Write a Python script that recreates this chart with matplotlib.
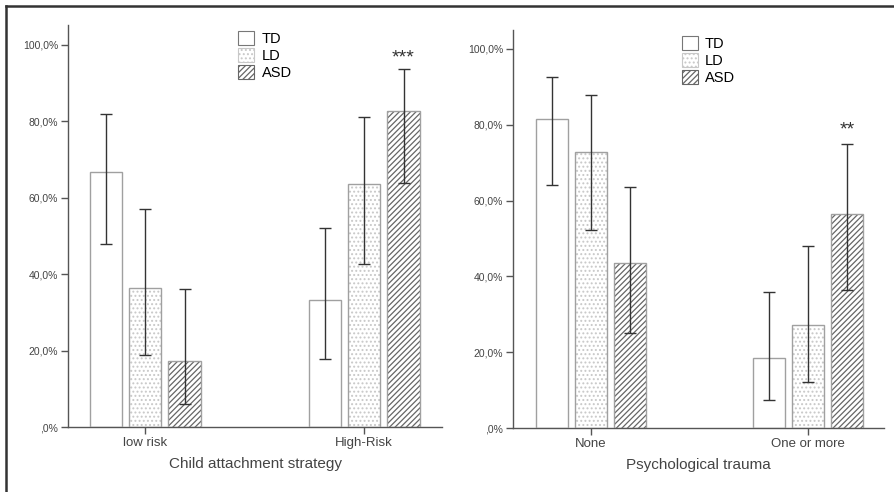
import matplotlib
matplotlib.use("Agg")
import matplotlib.pyplot as plt
from matplotlib.patches import Patch
from matplotlib.lines import Line2D
import numpy as np

plt.rcParams["font.family"] = ["Liberation Sans", "DejaVu Sans"]
plt.rcParams["hatch.linewidth"] = 0.9

groups = ["TD", "LD", "ASD"]

attach_cats = ["low risk", "High-Risk"]
attach_vals = {"TD": [66.7, 33.3], "LD": [36.4, 63.6], "ASD": [17.4, 82.6]}
attach_lo = {"TD": [47.9, 17.9], "LD": [18.9, 42.8], "ASD": [6.1, 63.9]}
attach_hi = {"TD": [82.0, 52.1], "LD": [57.1, 81.1], "ASD": [36.1, 93.8]}

trauma_cats = ["None", "One or more"]
trauma_vals = {"TD": [81.5, 18.5], "LD": [72.7, 27.3], "ASD": [43.5, 56.5]}
trauma_lo = {"TD": [64.1, 7.4], "LD": [52.2, 12.1], "ASD": [25.1, 36.4]}
trauma_hi = {"TD": [92.6, 35.9], "LD": [87.8, 47.9], "ASD": [63.6, 74.9]}

yticks = [0, 20, 40, 60, 80, 100]
ytick_labels = [",0%", "20,0%", "40,0%", "60,0%", "80,0%", "100,0%"]

# hatch, hatch colour per group
styles = {"TD": ("", "#999999"), "LD": ("....", "#c8c8c8"), "ASD": ("//////", "#666666")}
edge = "#a0a0a0"
axis_col = "#555555"
text_col = "#444444"


def panel(ax, cats, vals, lo, hi, xlabel, star, star_y, xlim, ymax, legend_x):
    x = np.arange(len(cats))
    off = 0.18
    w = 0.147
    for k, g in enumerate(groups):
        pos = x + (k - 1) * off
        hatch, hcol = styles[g]
        v = np.array(vals[g])
        if hatch:
            ax.bar(pos, v, w, color="white", edgecolor=hcol, hatch=hatch,
                   linewidth=0, zorder=2)
        ax.bar(pos, v, w, fill=False, edgecolor=edge, linewidth=1.0, zorder=3)
        yerr = [v - np.array(lo[g]), np.array(hi[g]) - v]
        ax.errorbar(pos, v, yerr=yerr, fmt="none", ecolor="#333333",
                    elinewidth=1.0, capsize=4.5, capthick=1.0, zorder=4)

    ax.text(1 + off, star_y, star, ha="center", va="center",
            fontsize=14, color="#333333")

    ax.set_xlim(*xlim)
    ax.set_ylim(0, ymax)
    ax.set_xticks(x)
    ax.set_xticklabels(cats, fontsize=9.5, color=text_col)
    ax.set_yticks(yticks)
    ax.set_yticklabels(ytick_labels, fontsize=7.5, color=text_col)
    ax.tick_params(axis="both", direction="out", length=5, width=1.0,
                   color=axis_col, pad=2)
    for s in ["top", "right"]:
        ax.spines[s].set_visible(False)
    for s in ["left", "bottom"]:
        ax.spines[s].set_color(axis_col)
        ax.spines[s].set_linewidth(1.0)
    ax.set_xlabel(xlabel, fontsize=11, color=text_col, labelpad=6)

    handles = []
    for g in groups:
        hatch, hcol = styles[g]
        handles.append(Patch(facecolor="white", edgecolor=hcol if hatch else "#777777",
                             hatch=hatch, linewidth=0.8))
    ax.legend(handles, groups, loc="upper left", bbox_to_anchor=(legend_x, 0.985),
              frameon=False, fontsize=10.5, handlelength=1.1, handleheight=1.1,
              labelspacing=0.15, handletextpad=0.5, borderpad=0, borderaxespad=0)


fig = plt.figure(figsize=(8.95, 4.92), dpi=100)
ax1 = fig.add_axes([0.076, 0.132, 0.418, 0.817])
ax2 = fig.add_axes([0.573, 0.130, 0.4145, 0.809])

panel(ax1, attach_cats, attach_vals, attach_lo, attach_hi,
      "Child attachment strategy", "***", 96.5, (-0.352, 1.356), 105.2, 0.455)
panel(ax2, trauma_cats, trauma_vals, trauma_lo, trauma_hi,
      "Psychological trauma", "**", 78.5, (-0.359, 1.35), 105.0, 0.455)

# frame lines at top and left of the image
fig.add_artist(Line2D([0.007, 1.0], [0.987, 0.987], color="#333333", linewidth=1.8))
fig.add_artist(Line2D([0.007, 0.007], [0.0, 0.987], color="#333333", linewidth=1.8))

fig.savefig("out.png", dpi=100)
